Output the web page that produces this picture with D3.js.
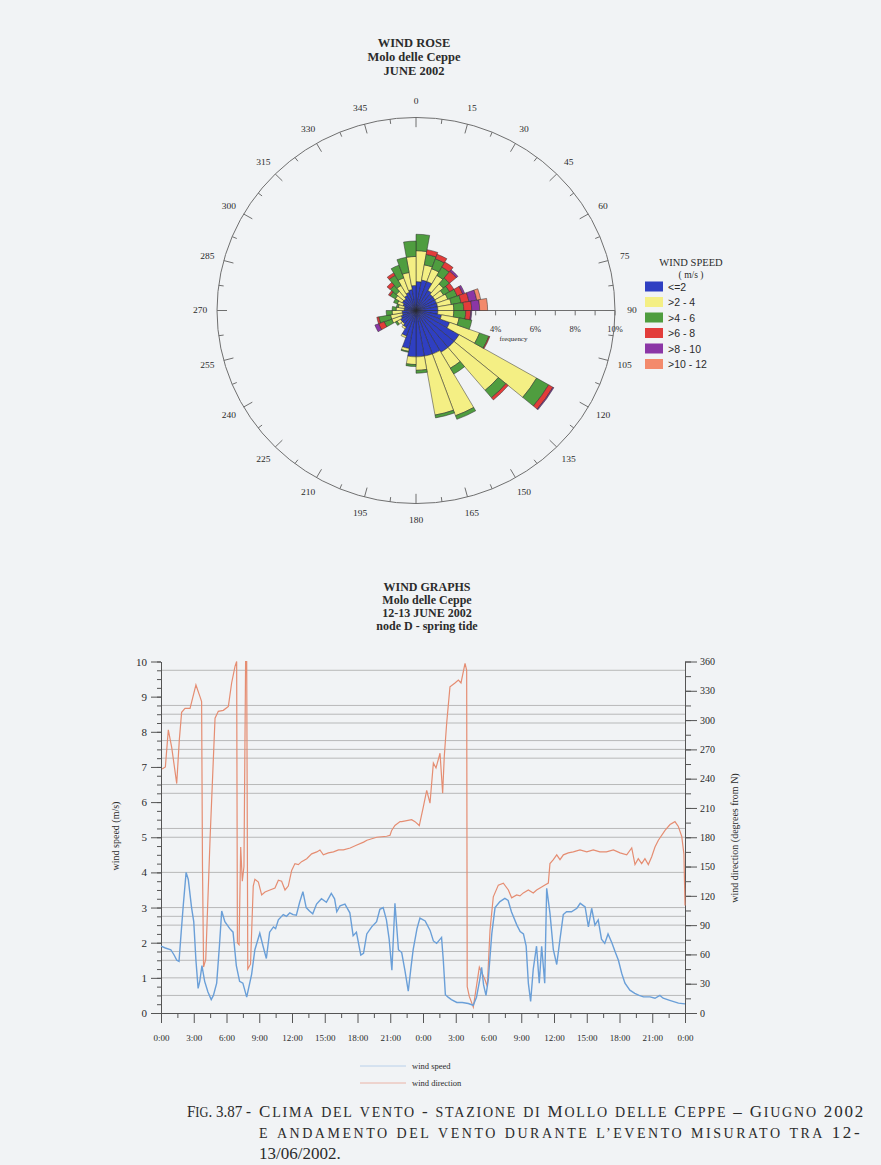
<!DOCTYPE html>
<html>
<head>
<meta charset="utf-8">
<script src="https://cdn.jsdelivr.net/npm/d3@7"></script>
<style>
  html, body { margin: 0; padding: 0; background: #f1f3f5; }
  svg { display: block; }
  text { font-family: "Liberation Serif", "Times New Roman", serif; fill: #2b2b2b; }
  .sans { font-family: "Liberation Sans", Arial, sans-serif; }
</style>
</head>
<body>
<svg id="page" width="881" height="1165"></svg>
<script>
// ---------------- Wind rose data (frequency %, 10-degree sectors) ----------------
const sectorStarts = d3.range(0, 360, 10);
const speedClasses = ["<=2", ">2 - 4", ">4 - 6", ">6 - 8", ">8 - 10", ">10 - 12"];
const classColors  = ["#2f3fc2", "#f4ef84", "#4f9d3f", "#e23c3a", "#8b36a6", "#f38a6c"];

const freqLe2   = [1.5,1.6,1.6,1.2,1.1,1.1,1.1,1.1,1.1,1.1,1.3,1.8,2.5,2.5,2.5,2.4,2.4,2.4,
                   2.4,2.0,1.4,1.0,0.9,0.9,0.8,0.7,0.7,0.6,0.6,0.7,0.8,0.8,0.9,1.0,1.1,1.3];
const freq2to4  = [1.6,0.8,0.7,0.9,0.7,0.5,0.6,0.7,0.8,0.8,0.9,1.6,4.5,2.9,0.95,3.4,3.1,0.7,
                   0.4,0.15,0.1,0.1,0.1,0.2,0.5,0.6,0.5,0.4,0.3,0.3,0.4,0.5,0.6,0.8,0.9,1.5];
const freq4to6  = [0.85,0.55,0.55,0.5,0.4,0.35,0.5,0.5,0.5,0.6,0.65,0.5,0.7,0.5,0.35,0.2,0.15,0.15,
                   0.1,0.05,0,0,0,0.1,0.4,0.6,0.3,0.2,0.1,0.2,0.3,0.4,0.6,0.7,0.8,0.8];
const freq6to8  = [0,0.25,0.25,0.3,0.45,0.25,0.3,0.4,0.4,0.25,0,0.05,0.25,0.15,0,0,0,0,
                   0,0,0,0,0,0,0.3,0.1,0,0,0,0,0.1,0.2,0.15,0,0,0];
const freq8to10 = [0,0,0,0,0.1,0,0.1,0.4,0.4,0.05,0,0,0.05,0,0,0,0,0,
                   0,0,0,0,0,0,0.2,0,0,0,0,0,0,0,0,0,0,0];
const freq10to12= [0,0,0,0,0,0,0,0.2,0.4,0,0,0,0,0,0,0,0,0,
                   0,0,0,0,0,0,0,0,0,0,0,0,0,0,0,0,0,0];

const compassLabels = d3.range(0, 360, 15);
const freqTicks = d3.range(1, 11);
const freqLabels = [2, 4, 6, 8, 10];

// ---------------- Wind graph data (12-13 June 2002) ----------------
// [hours from 12/06 0:00, wind speed m/s]
const windSpeed = [
  [0.0,1.9],[0.4,1.85],[0.9,1.8],[1.2,1.65],[1.45,1.5],[1.65,1.47],[1.85,2.3],[2.05,3.1],
  [2.3,4.0],[2.5,3.8],[2.8,3.0],[3.0,2.6],[3.2,1.5],[3.4,0.7],[3.55,0.9],[3.75,1.35],
  [4.0,0.9],[4.3,0.6],[4.6,0.38],[4.8,0.5],[5.1,0.85],[5.35,1.9],[5.56,2.9],[5.85,2.6],
  [6.3,2.4],[6.6,2.3],[6.9,1.35],[7.2,0.9],[7.5,0.85],[7.85,0.45],[8.3,1.1],[8.6,1.8],
  [9.05,2.27],[9.35,1.9],[9.65,1.55],[9.95,2.3],[10.3,2.45],[10.5,2.4],[10.75,2.65],
  [11.2,2.8],[11.5,2.75],[11.8,2.85],[12.1,2.8],[12.4,2.78],[12.7,3.15],[13.0,3.45],
  [13.3,3.0],[13.6,2.9],[13.9,2.82],[14.25,3.1],[14.7,3.25],[15.15,3.15],[15.6,3.4],
  [15.9,3.25],[16.1,2.88],[16.4,3.05],[16.85,3.1],[17.3,2.85],[17.6,2.2],[17.9,2.3],
  [18.3,1.65],[18.55,1.7],[18.85,2.25],[19.3,2.45],[19.75,2.6],[20.05,2.95],[20.35,3.0],
  [20.65,2.65],[20.9,2.1],[21.15,1.22],[21.43,3.12],[21.75,1.8],[22.05,1.72],[22.35,1.2],
  [22.65,0.62],[22.9,1.3],[23.1,1.8],[23.45,2.4],[23.72,2.7],[24.2,2.62],[24.65,2.35],
  [24.95,2.05],[25.25,1.98],[25.7,2.15],[25.86,1.5],[26.05,0.52],[26.3,0.45],[26.6,0.38],
  [27.1,0.3],[27.6,0.3],[28.15,0.27],[28.6,0.22],[28.9,0.45],[29.2,0.95],[29.37,1.3],
  [29.55,0.8],[29.77,0.5],[29.98,0.95],[30.3,2.25],[30.6,3.0],[31.05,3.17],[31.5,3.26],
  [31.8,3.2],[32.1,2.88],[32.6,2.5],[32.9,2.32],[33.2,2.25],[33.45,1.9],[33.65,0.85],
  [33.86,0.33],[34.1,1.25],[34.4,1.9],[34.65,0.85],[34.87,1.9],[35.15,0.85],[35.33,3.55],
  [35.63,2.84],[35.94,1.8],[36.25,1.38],[36.55,2.1],[36.85,2.8],[37.15,2.88],[37.6,2.88],
  [38.1,2.98],[38.4,3.12],[38.85,3.02],[39.15,2.45],[39.45,2.98],[39.75,2.5],[40.05,2.65],
  [40.35,2.1],[40.65,1.98],[40.95,2.25],[41.3,2.0],[41.6,1.74],[41.9,1.5],[42.2,1.13],
  [42.5,0.85],[42.95,0.65],[43.4,0.56],[43.8,0.5],[44.2,0.46],[44.8,0.46],[45.25,0.42],
  [45.7,0.5],[46.0,0.42],[46.6,0.36],[47.4,0.28],[48.0,0.26]
];
// [hours from 12/06 0:00, wind direction degrees from N]
const windDirection = [
  [0.1,250],[0.4,252],[0.67,290],[0.98,272],[1.44,235],[1.68,280],[1.89,308],[2.2,312],
  [2.66,312],[3.2,336],[3.57,324],[3.72,319],[3.8,150],[3.9,47],[4.1,55],[4.5,180],
  [4.95,302],[5.25,309],[5.71,310],[6.17,314],[6.47,338],[6.78,355],[6.93,360],[7.0,72],
  [7.15,70],[7.3,170],[7.45,135],[7.6,150],[7.75,360],[7.85,360],[7.95,45],[8.2,50],
  [8.45,130],[8.6,137],[8.92,134],[9.22,121],[9.53,124],[9.98,126],[10.44,128],[10.75,136],
  [11.05,135],[11.36,126],[11.66,130],[11.97,146],[12.27,153],[12.58,152],[12.88,155],
  [13.35,158],[13.8,163],[14.27,165],[14.56,167],[14.87,162],[15.33,164],[15.8,165],
  [16.26,167],[16.71,167],[17.33,169],[17.94,172],[18.56,175],[18.86,177],[19.76,180],
  [20.67,181],[20.98,182],[21.13,187],[21.43,192],[21.9,196],[22.05,196],[22.96,198],
  [23.27,196],[23.66,192],[24.03,211],[24.34,228],[24.64,215],[24.95,256],[25.19,251],
  [25.56,266],[25.8,225],[25.95,263],[26.17,297],[26.47,334],[26.93,338],[27.24,341],
  [27.48,338],[27.85,358],[28.0,351],[28.05,27],[28.24,17],[28.61,6],[29.16,47],
  [29.68,34],[29.89,27],[30.14,85],[30.44,119],[30.9,131],[31.36,133],[31.82,126],
  [32.12,118],[32.58,121],[32.88,120],[33.19,123],[33.65,126],[34.1,123],[34.41,126],
  [34.87,129],[35.17,131],[35.48,133],[35.63,153],[35.94,157],[36.25,162],[36.55,157],
  [36.86,162],[37.31,164],[37.77,165],[38.38,167],[39.0,165],[39.6,167],[40.2,165],
  [40.8,165],[41.44,167],[42.05,164],[42.66,162],[43.12,169],[43.42,152],[43.72,158],
  [44.03,153],[44.33,158],[44.64,152],[44.95,160],[45.25,170],[45.56,177],[46.17,187],
  [46.63,193],[47.08,196],[47.39,191],[47.7,181],[47.9,163],[48.0,110]
];
const speedTicks = d3.range(0, 11, 1);
const directionTicks = d3.range(0, 361, 30);
const hourTicks = d3.range(0, 49, 3);
const gridSpeeds = [0.5,1,1.5,1.75,2,2.5,2.75,3,4,5,5.25,6.25,6.5,7.25,7.5,7.75,8.25,8.5,8.75,9.75];

const svg = d3.select("#page");

// ================= WIND ROSE =================
["WIND ROSE", "Molo delle Ceppe", "JUNE 2002"].forEach((t, i) => {
  svg.append("text").attr("x", 414).attr("y", 47 + i * 14.2).attr("text-anchor", "middle")
    .attr("font-size", 12.5).attr("font-weight", "bold").text(t);
});

const cx = 416, cy = 310.5, R = 199;
// the printed rose is very slightly flattened vertically
const rose = svg.append("g").attr("transform", `translate(${cx},${cy}) scale(1,0.97)`);
const rScale = d3.scaleLinear().domain([0, 10]).range([0, R]);
const rad = d => d * Math.PI / 180;
const px = (deg, r) => r * Math.sin(rad(deg));
const py = (deg, r) => -r * Math.cos(rad(deg));

rose.append("circle").attr("r", R)
  .attr("fill", "none").attr("stroke", "#6d6d6d").attr("stroke-width", 1);

// compass ticks every 7.5 degrees, longer on labelled 15-degree marks
d3.range(0, 360, 7.5).forEach(a => {
  const len = a % 15 === 0 ? 10 : 5;
  rose.append("line")
    .attr("x1", px(a, R)).attr("y1", py(a, R))
    .attr("x2", px(a, R - len)).attr("y2", py(a, R - len))
    .attr("stroke", "#6d6d6d").attr("stroke-width", 1);
});
rose.selectAll("text.compass").data(compassLabels).join("text")
  .attr("class", "compass")
  .attr("x", d => px(d, R + 17)).attr("y", d => py(d, R + 17))
  .attr("text-anchor", "middle").attr("dominant-baseline", "central")
  .attr("font-size", 9.5).attr("fill", "#444").text(d => d);

// frequency axis along the 90-degree radius
rose.append("line").attr("x1", 0).attr("y1", 0).attr("x2", R).attr("y2", 0)
  .attr("stroke", "#6d6d6d").attr("stroke-width", 1);
rose.selectAll("line.ftick").data(freqTicks).join("line").attr("class", "ftick")
  .attr("x1", d => rScale(d)).attr("x2", d => rScale(d))
  .attr("y1", 0).attr("y2", 5).attr("stroke", "#6d6d6d");
rose.selectAll("text.flabel").data(freqLabels).join("text").attr("class", "flabel")
  .attr("x", d => rScale(d)).attr("y", 22).attr("text-anchor", "middle")
  .attr("font-size", 8.5).attr("fill", "#555").text(d => d + "%");
rose.append("text").attr("x", rScale(4.9)).attr("y", 31)
  .attr("text-anchor", "middle").attr("font-size", 7).attr("fill", "#555").text("frequency");

// stacked sector petals
const classArrays = [freqLe2, freq2to4, freq4to6, freq6to8, freq8to10, freq10to12];
const sectorRows = sectorStarts.map((s, i) => {
  const row = { start: s };
  classArrays.forEach((arr, k) => row["c" + k] = arr[i]);
  return row;
});
const stacked = d3.stack().keys(classArrays.map((_, k) => "c" + k))(sectorRows);
const arc = d3.arc();
stacked.forEach((layer, k) => {
  rose.append("g")
    .selectAll("path").data(layer.filter(d => d[1] - d[0] > 0)).join("path")
    .attr("d", d => arc({
      innerRadius: rScale(d[0]), outerRadius: rScale(d[1]),
      startAngle: rad(d.data.start), endAngle: rad(d.data.start + 10)
    }))
    .attr("fill", classColors[k]).attr("stroke", "#2a2a2a").attr("stroke-width", 0.5);
});

// speed-class legend
const leg = svg.append("g");
leg.append("text").attr("x", 691).attr("y", 266).attr("text-anchor", "middle")
  .attr("font-size", 10.5).attr("fill", "#555").text("WIND SPEED");
leg.append("text").attr("x", 691).attr("y", 277.5).attr("text-anchor", "middle")
  .attr("font-size", 9.5).attr("fill", "#555").text("( m/s )");
speedClasses.forEach((c, i) => {
  const y = 286.5 + i * 15.5;
  leg.append("rect").attr("x", 645).attr("y", y - 5).attr("width", 18).attr("height", 10)
    .attr("fill", classColors[i]);
  leg.append("text").attr("class", "sans").attr("x", 668).attr("y", y)
    .attr("dominant-baseline", "central").attr("font-size", 10.5).attr("fill", "#555").text(c);
});

// ================= WIND GRAPHS =================
const g = svg.append("g");
["WIND GRAPHS", "Molo delle Ceppe", "12-13 JUNE 2002", "node D - spring tide"].forEach((t, i) => {
  g.append("text").attr("x", 427).attr("y", 591 + i * 13).attr("text-anchor", "middle")
    .attr("font-size", 12).attr("font-weight", "bold").text(t);
});

const x = d3.scaleLinear().domain([0, 48]).range([161, 685]);
const yS = d3.scaleLinear().domain([0, 10]).range([1013, 661.5]);
const yD = d3.scaleLinear().domain([0, 360]).range([1013, 661.5]);

g.selectAll("line.grid").data(gridSpeeds).join("line").attr("class", "grid")
  .attr("x1", x(0)).attr("x2", x(48)).attr("y1", d => yS(d)).attr("y2", d => yS(d))
  .attr("stroke", "#a9a9a9").attr("stroke-width", 0.8);

const axisColor = "#555";
function styleAxis(sel, fontSize, sans) {
  sel.select(".domain").attr("stroke", axisColor);
  sel.selectAll(".tick line").attr("stroke", axisColor);
  sel.selectAll(".tick text").attr("fill", "#444").attr("font-size", fontSize)
    .attr("font-family", sans ? "Liberation Sans, Arial, sans-serif" : "Liberation Serif, serif");
}
// left axis (wind speed)
g.append("g").attr("transform", `translate(${x(0)},0)`)
  .call(d3.axisLeft(yS).tickValues(d3.range(0, 10.01, 0.25)).tickSize(4).tickSizeOuter(0).tickFormat(""))
  .call(s => styleAxis(s, 10, true));
g.append("g").attr("transform", `translate(${x(0)},0)`)
  .call(d3.axisLeft(yS).tickValues(speedTicks).tickSize(10).tickPadding(4).tickSizeOuter(0))
  .call(s => styleAxis(s, 11, true));
// right axis (wind direction)
g.append("g").attr("transform", `translate(${x(48)},0)`)
  .call(d3.axisRight(yD).tickValues(d3.range(0, 361, 15)).tickSize(6).tickSizeOuter(0).tickFormat(""))
  .call(s => styleAxis(s, 10, false));
g.append("g").attr("transform", `translate(${x(48)},0)`)
  .call(d3.axisRight(yD).tickValues(directionTicks).tickSize(12).tickPadding(3).tickSizeOuter(0))
  .call(s => styleAxis(s, 10, false));
// bottom axis (time)
g.append("g").attr("transform", `translate(0,${yS(0)})`)
  .call(d3.axisBottom(x).tickValues(d3.range(1.5, 48, 3)).tickSize(5).tickSizeOuter(0).tickFormat(""))
  .call(s => styleAxis(s, 9, false));
g.append("g").attr("transform", `translate(0,${yS(0)})`)
  .call(d3.axisBottom(x).tickValues(hourTicks).tickSize(10).tickPadding(12).tickSizeOuter(0)
    .tickFormat(h => (h % 24) + ":00"))
  .call(s => styleAxis(s, 9, false));

g.append("text").attr("transform", "translate(119,836) rotate(-90)").attr("text-anchor", "middle")
  .attr("font-size", 10).attr("fill", "#444").text("wind speed (m/s)");
g.append("text").attr("transform", "translate(738,838) rotate(-90)").attr("text-anchor", "middle")
  .attr("font-size", 10).attr("fill", "#444").text("wind direction (degrees from N)");

const speedColor = "#6a9fd8", dirColor = "#e58d72";
g.append("path").datum(windDirection)
  .attr("d", d3.line().x(d => x(d[0])).y(d => yD(d[1])))
  .attr("fill", "none").attr("stroke", dirColor).attr("stroke-width", 1.2);
g.append("path").datum(windSpeed)
  .attr("d", d3.line().x(d => x(d[0])).y(d => yS(d[1])))
  .attr("fill", "none").attr("stroke", speedColor).attr("stroke-width", 1.4);

// series legend
g.append("line").attr("x1", 360).attr("x2", 406).attr("y1", 1066).attr("y2", 1066)
  .attr("stroke", "#b9d0ea").attr("stroke-width", 1);
g.append("text").attr("x", 412).attr("y", 1066).attr("dominant-baseline", "central")
  .attr("font-size", 8.5).attr("fill", "#555").text("wind speed");
g.append("line").attr("x1", 360).attr("x2", 406).attr("y1", 1083).attr("y2", 1083)
  .attr("stroke", "#eab3a6").attr("stroke-width", 1);
g.append("text").attr("x", 412).attr("y", 1083).attr("dominant-baseline", "central")
  .attr("font-size", 8.5).attr("fill", "#555").text("wind direction");

// ================= CAPTION (small capitals, justified) =================
const bigSize = 17, smallSize = 14;
function smallCaps(textSel, str) {
  // split into runs of lowercase (drawn as reduced capitals) and everything else
  const runs = str.match(/[a-zàèéìòù’]+|[^a-zàèéìòù’]+/g);
  runs.forEach(r => {
    const lower = /^[a-zàèéìòù’]/.test(r);
    textSel.append("tspan").attr("font-size", lower ? smallSize : bigSize)
      .text(lower ? r.toUpperCase() : r);
  });
}
function justify(textSel, width) {
  // spread the line to the column width with even tracking
  const node = textSel.node();
  const natural = node.getComputedTextLength();
  const n = node.textContent.length;
  textSel.attr("letter-spacing", (width - natural) / n);
}
const cap = svg.append("g").attr("fill", "#2a2a2a");
const c0 = cap.append("text").attr("x", 187).attr("y", 1117)
  .attr("textLength", 64).attr("lengthAdjust", "spacingAndGlyphs");
smallCaps(c0, "Fig. 3.87 -");
const c1 = cap.append("text").attr("x", 259).attr("y", 1117);
smallCaps(c1, "Clima del vento - stazione di Mollo delle Ceppe – Giugno 2002");
justify(c1, 606);
const c2 = cap.append("text").attr("x", 259).attr("y", 1138);
smallCaps(c2, "e andamento del vento durante l’evento misurato tra 12-");
justify(c2, 603);
const c3 = cap.append("text").attr("x", 259).attr("y", 1159);
smallCaps(c3, "13/06/2002.");
</script>
</body>
</html>
